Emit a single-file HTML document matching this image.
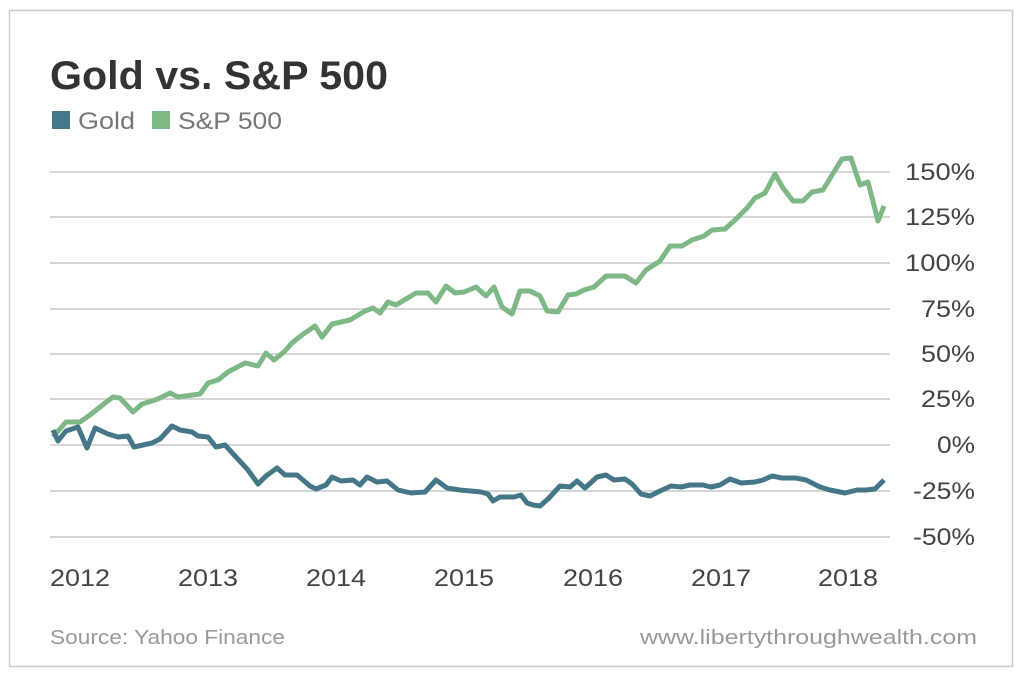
<!DOCTYPE html>
<html><head><meta charset="utf-8"><style>
body{margin:0;background:#fff;}
svg{display:block;font-family:"Liberation Sans",sans-serif;}
</style></head><body>
<svg width="1024" height="676" viewBox="0 0 1024 676">
<rect x="9.5" y="10.5" width="1003" height="656" fill="#fff" stroke="#ccc" stroke-width="1.5"/>
<text x="50" y="89" font-size="40" fill="#333" font-weight="bold" textLength="338" lengthAdjust="spacingAndGlyphs">Gold vs. S&amp;P 500</text>
<rect x="52" y="111" width="18" height="18" fill="#457788"/>
<text x="78" y="129" font-size="24" fill="#777" textLength="57" lengthAdjust="spacingAndGlyphs">Gold</text>
<rect x="152" y="111" width="18" height="18" fill="#7fb887"/>
<text x="178" y="129" font-size="24" fill="#777" textLength="104" lengthAdjust="spacingAndGlyphs">S&amp;P 500</text>
<g stroke="#d6d6d6" stroke-width="2">
<line x1="50" x2="890" y1="172" y2="172"/><line x1="50" x2="890" y1="217" y2="217"/>
<line x1="50" x2="890" y1="263" y2="263"/><line x1="50" x2="890" y1="309" y2="309"/>
<line x1="50" x2="890" y1="354" y2="354"/><line x1="50" x2="890" y1="399" y2="399"/>
<line x1="50" x2="890" y1="445" y2="445"/><line x1="50" x2="890" y1="491" y2="491"/>
<line x1="50" x2="890" y1="537" y2="537"/>
</g>
<g font-size="24" fill="#444" text-anchor="end">
<text x="975" y="180" textLength="70" lengthAdjust="spacingAndGlyphs">150%</text><text x="975" y="225" textLength="70" lengthAdjust="spacingAndGlyphs">125%</text><text x="975" y="271" textLength="70" lengthAdjust="spacingAndGlyphs">100%</text>
<text x="975" y="317" textLength="54" lengthAdjust="spacingAndGlyphs">75%</text><text x="975" y="362" textLength="54" lengthAdjust="spacingAndGlyphs">50%</text><text x="975" y="407" textLength="54" lengthAdjust="spacingAndGlyphs">25%</text>
<text x="975" y="453" textLength="38" lengthAdjust="spacingAndGlyphs">0%</text><text x="975" y="499" textLength="62" lengthAdjust="spacingAndGlyphs">-25%</text><text x="975" y="545" textLength="62" lengthAdjust="spacingAndGlyphs">-50%</text>
</g>
<g font-size="24" fill="#444" text-anchor="middle">
<text x="80" y="586" textLength="60" lengthAdjust="spacingAndGlyphs">2012</text><text x="208" y="586" textLength="60" lengthAdjust="spacingAndGlyphs">2013</text><text x="336" y="586" textLength="60" lengthAdjust="spacingAndGlyphs">2014</text>
<text x="464" y="586" textLength="60" lengthAdjust="spacingAndGlyphs">2015</text><text x="593" y="586" textLength="60" lengthAdjust="spacingAndGlyphs">2016</text><text x="721" y="586" textLength="60" lengthAdjust="spacingAndGlyphs">2017</text><text x="848" y="586" textLength="60" lengthAdjust="spacingAndGlyphs">2018</text>
</g>
<polyline fill="none" stroke="#7fb887" stroke-width="5" stroke-linejoin="round" points="53,437 66,422 80,422 90,415 105,403 113,397 120,398 133,412 142,404 158,399 170,393 178,397 200,394 208,383 218,380 228,372 245,363 258,366 266,353 274,360 284,352 292,343 302,335 315,326 322,337 332,324 350,320 365,311 373,308 380,313 388,302 396,305 406,299 416,293 428,293 436,302 446,286 455,293 464,292 476,287 486,296 494,287 502,307 512,314 520,291 530,291 540,296 547,311 558,312 568,295 576,294 584,290 594,287 606,276 625,276 636,283 646,270 660,261 670,246 682,246 692,240 704,236 712,230 725,229 735,220 747,208 755,198 765,193 775,174 783,188 793,201 803,201 812,192 823,190 832,175 842,159 851,158 860,185 868,182 878,221 884,206"/>
<polyline fill="none" stroke="#457788" stroke-width="5" stroke-linejoin="round" points="53,430 58,441 66,431 78,427 87,448 95,428 108,434 118,437 128,436 134,447 152,443 160,439 172,426 180,430 192,432 198,436 208,437 216,447 225,445 248,470 258,484 266,476 277,468 285,475 297,475 310,486 316,489 326,485 332,477 341,481 353,480 360,485 367,477 377,482 387,481 398,490 411,493 425,492 436,480 447,488 460,490 481,492 488,494 493,501 500,497 514,497 521,495 527,503 533,505 540,506 548,499 560,486 570,487 577,481 585,488 597,477 606,475 614,480 625,479 632,484 641,494 650,496 660,491 671,486 681,487 690,485 703,485 711,487 720,485 730,479 741,483 755,482 763,480 772,476 782,478 796,478 806,480 820,487 830,490 845,493 857,490 866,490 875,489 884,480"/>
<text x="50" y="644" font-size="20" fill="#999" textLength="235" lengthAdjust="spacingAndGlyphs">Source: Yahoo Finance</text>
<text x="977" y="644" font-size="20" fill="#999" text-anchor="end" textLength="337" lengthAdjust="spacingAndGlyphs">www.libertythroughwealth.com</text>
</svg>
</body></html>
